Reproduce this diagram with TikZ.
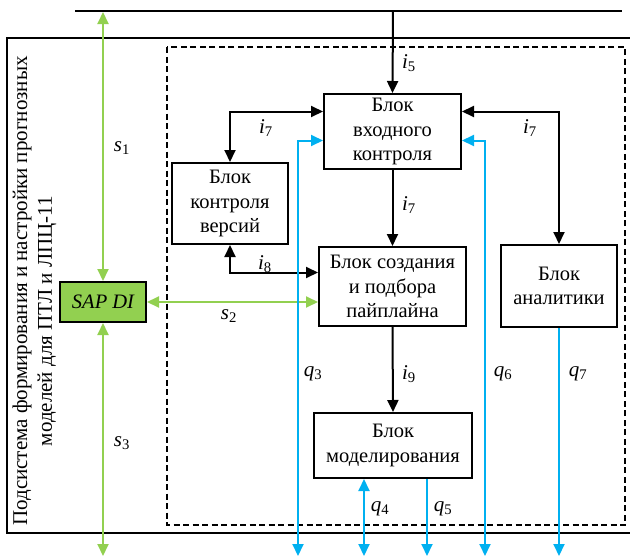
\documentclass[tikz,border=0pt]{standalone}
\usepackage{fontspec}
\setmainfont{Liberation Serif}
\usetikzlibrary{arrows.meta}
\definecolor{sgreen}{RGB}{146,208,80}
\definecolor{qblue}{RGB}{0,176,240}
\newcommand\lbl[2]{\textit{#1}\textsubscript{#2}}
\begin{document}
\begin{tikzpicture}[x=1pt,y=-1pt,
  blk/.style={draw, line width=2pt, align=center, inner sep=0pt,
    font=\fontsize{20.5}{24.5}\selectfont},
  tip/.style={-{Triangle[length=12pt,width=11pt]}},
  both/.style={{Triangle[length=12pt,width=11pt]}-{Triangle[length=12pt,width=11pt]}},
  bl/.style={line width=2pt},
  gr/.style={line width=2pt, sgreen},
  qb/.style={line width=2pt, qblue},
  lab/.style={font=\fontsize{21}{22}\selectfont, inner sep=0pt},
  vt/.style={rotate=90, font=\fontsize{21}{22}\selectfont, inner sep=0pt}]
\useasboundingbox (0,0) rectangle (630,557);
% frames
\draw[line width=2pt] (75,11) -- (622,11);
\draw[line width=2pt] (640,38) -- (7,38) -- (7,533) -- (640,533);
\draw[line width=1.4pt, dashed, dash pattern=on 6pt off 3.5pt] (167,47) rectangle (625,525);
% vertical caption
\node[vt] (cap1) at (22,291) {Подсистема формирования и настройки прогнозных};
\node[vt] (cap2) at (47,321) {моделей для ПТЛ и ЛПЦ-11};
% blocks
\node[blk, minimum width=137pt, minimum height=75pt] (vhod) at (392.5,131.5) {Блок\\входного\\контроля};
\node[blk, minimum width=116pt, minimum height=81pt] (vers) at (230,203.5) {Блок\\контроля\\версий};
\node[blk, minimum width=147pt, minimum height=79pt] (sozd) at (392.5,286.5) {Блок создания\\и подбора\\пайплайна};
\node[blk, minimum width=116pt, minimum height=82pt] (anal) at (559,286) {Блок\\аналитики};
\node[blk, minimum width=158pt, minimum height=65pt] (model) at (393,445.5) {Блок\\моделирования};
\node[blk, fill=sgreen, minimum width=86pt, minimum height=40pt, font=\fontsize{20.5}{22}\selectfont\itshape] (sap) at (103,302) {SAP DI};
% free ends
\coordinate (top5) at (393,11);
\coordinate (tops1) at (103,12);
\coordinate (bs3) at (103,556);
\coordinate (bq3) at (298,556);
\coordinate (bq4) at (364,556);
\coordinate (bq5) at (427,556);
\coordinate (bq6) at (485,556);
\coordinate (bq7) at (559,556);
% black connectors
\draw[bl, tip] (top5) -- (vhod.north);
\draw[bl, both] (vers.north) |- ([yshift=-18.5pt]vhod.north west);
\draw[bl, both] ([yshift=-18.5pt]vhod.north east) -| (anal.north);
\draw[bl, tip] (vhod.south) -- (sozd.north);
\draw[bl, both] (vers.south) |- ([yshift=-26.5pt]sozd.north west);
\draw[bl, tip] (sozd.south) -- (model.north);
% green
\draw[gr, both] (tops1) -- (sap.north);
\draw[gr, both] (sap.south) -- (bs3);
\draw[gr, both] (sap.east) -- (sozd.west |- sap.east);
% blue
\draw[qb, both] (bq3) |- ([yshift=-47.5pt]vhod.north west);
\draw[qb, both] (bq6) |- ([yshift=-47.5pt]vhod.north east);
\draw[qb, tip] (anal.south) -- (bq7);
\draw[qb, both] (model.south -| bq4) -- (bq4);
\draw[qb, tip] (model.south -| bq5) -- (bq5);
% labels
\node[lab] (ls1) at (122,148) {\lbl{s}{1}};
\node[lab] (ls2) at (229,316) {\lbl{s}{2}};
\node[lab] (ls3) at (122,443) {\lbl{s}{3}};
\node[lab] (li5) at (409,63) {\lbl{i}{5}};
\node[lab] (li7a) at (266,128) {\lbl{i}{7}};
\node[lab] (li7b) at (409,205) {\lbl{i}{7}};
\node[lab] (li7c) at (530,128) {\lbl{i}{7}};
\node[lab] (li8) at (265,264) {\lbl{i}{8}};
\node[lab] (li9) at (409,374) {\lbl{i}{9}};
\node[lab] (lq3) at (313,374) {\lbl{q}{3}};
\node[lab] (lq4) at (380,509) {\lbl{q}{4}};
\node[lab] (lq5) at (443,509) {\lbl{q}{5}};
\node[lab] (lq6) at (503,374) {\lbl{q}{6}};
\node[lab] (lq7) at (578,374) {\lbl{q}{7}};
\end{tikzpicture}
\end{document}
